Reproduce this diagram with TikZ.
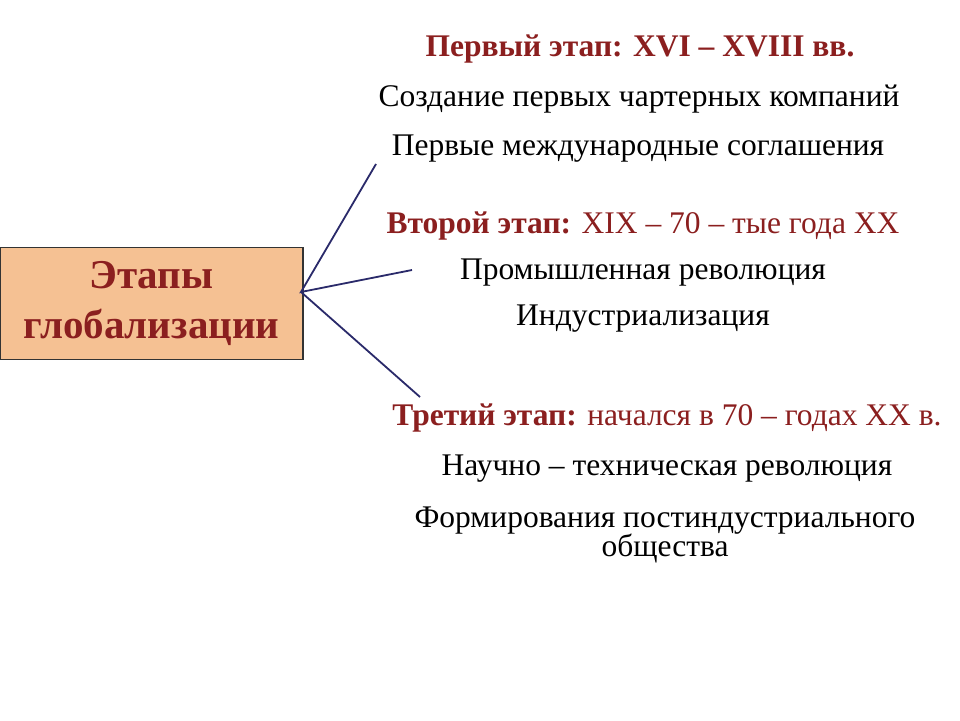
\documentclass[tikz,border=0pt]{standalone}
\usepackage{fontspec}
\setmainfont{Liberation Serif}
\definecolor{dred}{HTML}{8B1F1F}
\definecolor{boxfill}{HTML}{F5C193}
\definecolor{linec}{HTML}{2A2A6A}
\begin{document}
\begin{tikzpicture}[x=1pt,y=-1pt,
  txt/.style={font=\fontsize{31.5}{34}\selectfont, inner sep=0pt, anchor=base},
  ttl/.style={txt, text=dred},
  conn/.style={draw=linec, line width=1.8pt}]
\useasboundingbox (0,0) rectangle (960,720);
\fill[white] (0,0) rectangle (960,720);
\node[draw=black!80, line width=1.5pt, fill=boxfill, minimum width=303pt, minimum height=112pt, inner sep=0pt,
  align=center, text=dred, font=\fontsize{41}{50}\selectfont\bfseries] (box) at (151.5,303.5) {Этапы\\глобализации};
\coordinate (hub) at (301,292);
\coordinate (e1) at (376,164);
\coordinate (e2) at (412,270);
\coordinate (e3) at (420,397);
\draw[conn] (e1) -- (hub) -- (e2);
\draw[conn] (hub) -- (e3);
\node[ttl] (t1) at (640,56) {\textbf{Первый этап: XVI – XVIII вв.}};
\node[txt] (a1) at (639,106) {Создание первых чартерных компаний};
\node[txt] (a2) at (638,155) {Первые международные соглашения};
\node[ttl] (t2) at (643,233) {\textbf{Второй этап:} XIX – 70 – тые года XX};
\node[txt] (b1) at (643,279) {Промышленная революция};
\node[txt] (b2) at (643,325) {Индустриализация};
\node[ttl] (t3) at (667,425) {\textbf{Третий этап:} начался в 70 – годах XX в.};
\node[txt] (c1) at (667,475) {Научно – техническая революция};
\node[txt] (c2) at (665,527) {Формирования постиндустриального};
\node[txt] (c3) at (665,556) {общества};
\end{tikzpicture}
\end{document}
